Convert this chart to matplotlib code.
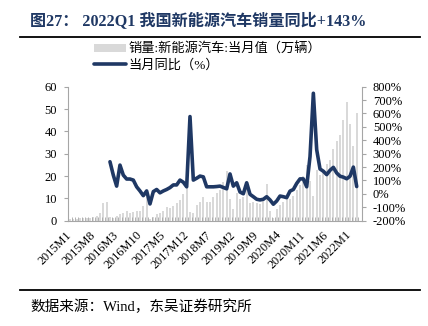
import matplotlib.pyplot as plt
from matplotlib.lines import Line2D
import numpy as np

# monthly NEV sales (10k units), 2015M1 - 2022M3
sales_2015 = [0.7, 0.6, 0.9, 1.1, 1.1, 1.4, 1.2, 1.5, 2.1, 3.4, 7.8, 8.4]
sales_2016 = [1.6, 1.3, 2.3, 3.1, 3.5, 4.5, 3.6, 3.8, 4.3, 4.5, 6.6, 10.4]
sales_2017 = [0.7, 1.8, 3.1, 3.4, 4.5, 6.0, 5.6, 6.8, 7.8, 9.3, 11.8, 15.2]
sales_2018 = [4.0, 3.3, 6.9, 8.4, 10.4, 8.5, 8.5, 10.4, 12.5, 13.8, 17.2, 22.4]
sales_2019 = [9.6, 5.3, 12.6, 9.7, 10.4, 15.2, 8.0, 8.5, 8.0, 7.5, 9.5, 16.3]
sales_2020 = [4.4, 1.3, 5.3, 7.2, 8.2, 10.4, 9.8, 10.9, 13.8, 16.0, 20.0, 24.8]
sales_2021 = [17.9, 11.0, 22.6, 20.6, 21.7, 25.6, 27.1, 32.1, 35.7, 38.3, 45.0, 53.1]
sales_2022 = [43.1, 33.4, 48.4]

# YoY (%), starts 2016M1
yoy_2016 = [240, 140, 58, 215, 140, 111, 111, 103, 53, 22, -13, 22]
yoy_2017 = [-75, 17, 33, 8, 22, 33, 47, 67, 67, 103, 87, 53]
yoy_2018 = [577, 103, 117, 133, 127, 53, 53, 53, 55, 58, 48, 38]
yoy_2019 = [149, 58, 83, 14, 1, 83, -3, -21, -40, -45, -40, -21]
yoy_2020 = [-45, -77, -53, -16, -21, -28, 21, 33, 78, 112, 112, 53]
yoy_2021 = [279, 751, 330, 186, 169, 144, 176, 198, 156, 132, 125, 113]
yoy_2022 = [132, 200, 55]

sales = (sales_2015 + sales_2016 + sales_2017 + sales_2018 + sales_2019
         + sales_2020 + sales_2021 + sales_2022)
yoy = yoy_2016 + yoy_2017 + yoy_2018 + yoy_2019 + yoy_2020 + yoy_2021 + yoy_2022
months = [f'{y}M{m}' for y in range(2015, 2023) for m in range(1, 13)][:len(sales)]

serif_cjk = ['Liberation Serif', 'Noto Sans CJK SC']
navy = '#1F3864'
grey_axis = '#A6A6A6'

fig = plt.figure(figsize=(4.28, 3.26), dpi=100)
ax = fig.add_axes([68.3 / 428, 1 - 220.7 / 326, (361.7 - 68.3) / 428, (220.7 - 86.7) / 326])

x = np.arange(len(sales))
bars = ax.bar(x, sales, width=0.6, color='#D9D9D9', zorder=1)
ax.set_xlim(-0.5, len(sales) + 0.5)
ax.set_ylim(0, 60)
ax.set_yticks(range(0, 61, 10))

ax2 = ax.twinx()
line, = ax2.plot(x[12:], yoy, color=navy, lw=2.6,
                 solid_joinstyle='round', solid_capstyle='round')
ax2.set_ylim(-200, 800)
ax2.set_yticks(range(-200, 801, 100))
ax2.set_yticklabels([f'{v}%' for v in range(-200, 801, 100)])

for a in (ax, ax2):
    for s in a.spines.values():
        s.set_color(grey_axis)
        s.set_linewidth(0.8)
    a.spines['top'].set_visible(False)
ax.spines['right'].set_visible(False)
ax2.spines['left'].set_visible(False)
ax2.spines['bottom'].set_visible(False)

ax.set_xticks(x[::7])
ax.set_xticklabels(months[::7])
ax.set_xticks(np.arange(-0.5, len(sales) + 1), minor=True)
ax.tick_params(axis='x', which='major', length=0, pad=9)
ax.tick_params(axis='x', which='minor', direction='in', length=3, color=grey_axis)
for lab in ax.get_xticklabels():
    lab.set_rotation(45)
    lab.set_ha('right')
    lab.set_va('center')
    lab.set_rotation_mode('anchor')
    lab.set_family(serif_cjk)
    lab.set_fontsize(8.8)

ax.tick_params(axis='y', direction='out', length=3, color=grey_axis, pad=5)
ax2.tick_params(axis='y', direction='out', length=3, color=grey_axis, pad=5)
for lab in ax.get_yticklabels() + ax2.get_yticklabels():
    lab.set_family(serif_cjk)
    lab.set_fontsize(9)

fig.legend([bars, line], ['销量:新能源汽车:当月值（万辆）', '当月同比（%）'],
           loc='center left', bbox_to_anchor=(94 / 428, 1 - 57 / 326),
           frameon=False, prop={'family': serif_cjk, 'size': 9.5},
           handlelength=2.4, handleheight=0.5, handletextpad=0.2,
           labelspacing=0.25, borderpad=0, borderaxespad=0)

fig.text(30 / 428, 1 - 21.7 / 326, '图27： 2022Q1 我国新能源汽车销量同比+143%',
         fontsize=11.6, weight='bold', color=navy, va='center', family=serif_cjk)
fig.add_artist(Line2D([20 / 428, 420 / 428], [1 - 36.7 / 326] * 2, color='black', lw=1.3))
fig.add_artist(Line2D([20 / 428, 420 / 428], [1 - 290 / 326] * 2, color='black', lw=1.3))
fig.text(30 / 428, 1 - 306.7 / 326, '数据来源：Wind，东吴证券研究所',
         fontsize=10.5, va='center', family=serif_cjk)

fig.savefig('out.png', dpi=100)
